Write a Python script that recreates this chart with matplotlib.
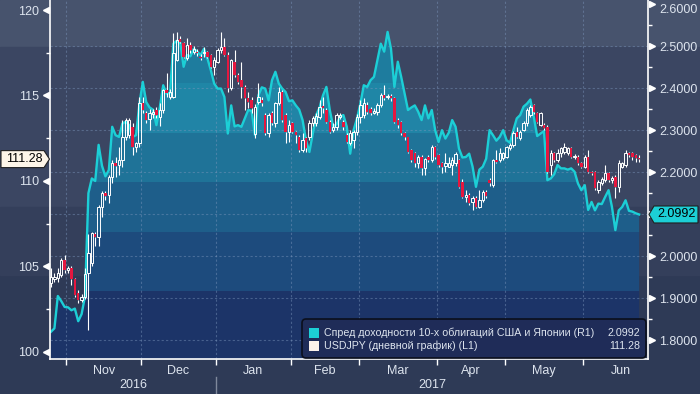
import numpy as np
import pandas as pd
import matplotlib
matplotlib.use('Agg')
import matplotlib.pyplot as plt
from matplotlib.colors import to_rgb
from matplotlib.patches import Rectangle, Polygon, FancyBboxPatch
from matplotlib.transforms import IdentityTransform, blended_transform_factory
from matplotlib.ticker import FormatStrFormatter

plt.rcParams['font.family'] = ['Liberation Sans', 'DejaVu Sans']

# --- данные (дневные бары, с 25.10.2016) ---
start_date = '2016-10-25'

usdjpy_open = [
    104.02, 104.25, 104.31, 104.50, 105.38, 104.79, 104.89, 104.25, 103.43, 103.04,
    103.23, 104.60, 105.19, 106.88, 106.74, 108.50, 109.28, 109.18, 110.25, 111.03,
    110.93, 111.23, 112.60, 112.69, 113.18, 112.00, 112.20, 114.54, 113.96, 113.60,
    113.90, 114.15, 113.76, 114.15, 115.32, 114.93, 114.93, 117.08, 118.28, 118.05,
    117.17, 117.95, 117.56, 117.56, 117.27, 117.46, 117.56, 117.37, 116.69, 116.98,
    117.64, 117.83, 117.37, 115.42, 116.98, 116.20, 115.90, 115.52, 114.83, 114.74,
    112.75, 114.64, 114.74, 113.86, 112.79, 113.96, 113.37, 114.54, 115.22, 113.86,
    112.88, 113.37, 112.88, 112.59, 111.81, 112.50, 112.59, 113.37, 113.37, 113.76,
    114.39, 114.15, 113.47, 112.98, 113.18, 113.72, 113.47, 112.69, 112.20, 112.40,
    112.88, 113.76, 113.86, 114.45, 114.19, 114.00, 114.05, 114.45, 115.03, 114.89,
    114.97, 114.83, 113.57, 113.47, 112.79, 112.59, 111.81, 111.62, 111.03, 111.42,
    110.74, 111.42, 111.23, 112.00, 111.52, 111.03, 110.88, 110.84, 110.93, 111.03,
    111.23, 109.96, 109.08, 109.18, 108.79, 108.99, 108.50, 108.89, 109.38, 110.06,
    109.77, 111.23, 111.23, 111.33, 111.42, 111.91, 112.10, 112.88, 112.50, 112.98,
    113.37, 113.86, 114.45, 113.96, 113.27, 113.27, 113.18, 110.93, 111.62, 111.23,
    111.62, 111.72, 111.62, 111.91, 111.38, 111.42, 111.03, 110.84, 111.42, 110.55,
    110.55, 109.47, 109.86, 110.06, 110.45, 110.06, 110.25, 109.67, 110.84, 110.93,
    111.62, 111.62, 111.52, 111.33,
]
usdjpy_high = [
    104.89, 104.60, 104.90, 105.50, 105.67, 105.00, 105.00, 104.30, 103.60, 103.40,
    104.90, 106.90, 107.00, 107.00, 108.60, 109.40, 109.40, 110.35, 111.20, 111.40,
    112.00, 113.57, 113.67, 113.70, 113.40, 112.30, 114.90, 114.90, 114.10, 114.20,
    114.20, 114.30, 114.54, 115.40, 116.30, 115.40, 118.64, 118.74, 118.50, 118.10,
    118.35, 118.15, 117.90, 117.70, 117.40, 117.86, 117.60, 117.40, 117.27, 117.80,
    118.70, 118.35, 117.56, 117.12, 117.66, 116.30, 116.98, 115.62, 115.20, 114.90,
    114.50, 115.71, 114.90, 114.00, 113.96, 114.10, 114.64, 115.52, 115.30, 114.00,
    113.57, 113.47, 112.90, 112.70, 112.79, 112.60, 113.57, 113.80, 113.96, 114.74,
    114.93, 114.25, 113.57, 113.37, 113.96, 114.00, 113.57, 112.79, 113.00, 113.00,
    113.90, 114.74, 114.83, 114.60, 114.30, 114.25, 114.54, 115.13, 115.61, 115.10,
    115.10, 114.90, 113.70, 113.50, 112.88, 112.60, 111.90, 111.70, 111.50, 111.50,
    111.35, 111.50, 112.10, 112.05, 111.60, 111.10, 111.62, 111.42, 111.42, 111.70,
    111.30, 110.10, 109.47, 109.30, 109.10, 109.10, 109.47, 109.50, 109.50, 110.20,
    111.30, 111.81, 111.91, 111.70, 112.05, 112.20, 112.90, 113.18, 113.00, 113.50,
    114.25, 114.45, 114.50, 114.05, 114.05, 113.40, 113.27, 111.81, 111.70, 111.90,
    112.00, 112.20, 112.00, 112.00, 111.60, 111.50, 111.10, 111.52, 111.81, 110.60,
    110.60, 110.06, 110.25, 110.93, 110.55, 110.30, 110.35, 111.23, 111.10, 111.81,
    111.70, 111.70, 111.60, 111.50,
]
usdjpy_low = [
    103.82, 104.10, 104.10, 104.40, 104.60, 104.60, 103.92, 103.20, 102.85, 102.95,
    103.10, 101.29, 105.00, 106.20, 106.20, 107.90, 108.90, 108.70, 109.90, 110.25,
    110.35, 110.84, 112.40, 112.50, 111.50, 111.70, 112.00, 114.00, 113.40, 113.00,
    113.70, 113.70, 113.20, 114.00, 114.93, 114.80, 114.83, 117.00, 118.05, 117.20,
    117.10, 117.46, 117.40, 117.30, 117.10, 117.27, 117.20, 116.60, 116.20, 116.90,
    117.46, 117.30, 115.22, 115.32, 116.10, 115.70, 114.83, 114.15, 114.25, 114.00,
    112.50, 114.50, 114.40, 112.70, 112.59, 113.27, 113.18, 114.45, 113.47, 112.20,
    112.30, 112.80, 112.20, 111.72, 111.72, 111.70, 112.40, 113.20, 113.20, 113.60,
    114.00, 113.37, 112.79, 112.88, 113.00, 113.60, 113.00, 112.20, 112.10, 111.95,
    112.70, 113.37, 113.70, 113.90, 113.86, 113.90, 113.86, 114.35, 114.74, 114.80,
    114.70, 113.37, 113.10, 112.69, 112.40, 111.62, 111.10, 110.84, 110.74, 110.35,
    110.35, 111.10, 111.13, 111.30, 110.84, 110.45, 110.55, 110.80, 110.35, 110.90,
    109.60, 109.00, 108.79, 108.60, 108.30, 108.40, 108.40, 108.80, 109.00, 109.70,
    109.67, 111.03, 111.13, 111.20, 111.33, 111.80, 112.00, 112.50, 112.40, 112.90,
    113.20, 113.76, 113.90, 113.37, 113.20, 112.98, 110.45, 110.35, 111.10, 111.10,
    111.40, 111.60, 111.50, 111.33, 111.30, 110.93, 110.74, 110.74, 110.45, 110.35,
    109.50, 109.28, 109.77, 109.96, 109.96, 109.90, 108.98, 109.38, 110.74, 110.84,
    111.40, 111.20, 111.10, 111.10,
]
usdjpy_close = [
    104.41, 104.41, 104.60, 105.38, 104.79, 104.89, 104.25, 103.33, 103.04, 103.23,
    104.56, 105.77, 106.94, 106.70, 108.50, 109.28, 109.12, 110.25, 111.03, 110.90,
    111.23, 112.60, 113.57, 113.57, 112.00, 112.20, 114.54, 114.15, 113.57, 113.96,
    114.05, 113.86, 114.15, 115.32, 115.17, 115.22, 117.46, 118.25, 118.15, 117.27,
    117.95, 117.66, 117.70, 117.46, 117.17, 117.56, 117.27, 116.69, 117.08, 117.66,
    117.83, 117.37, 115.42, 117.08, 116.20, 115.81, 115.52, 114.83, 114.64, 114.25,
    114.31, 114.93, 114.54, 112.79, 113.86, 113.37, 114.54, 115.22, 113.57, 112.88,
    113.27, 112.88, 112.69, 111.81, 112.40, 111.91, 113.37, 113.66, 113.80, 114.35,
    114.25, 113.47, 112.88, 113.18, 113.86, 113.86, 113.18, 112.30, 112.83, 112.88,
    113.76, 114.45, 114.54, 114.05, 113.96, 114.11, 114.45, 115.03, 114.83, 114.97,
    114.83, 113.47, 113.27, 112.79, 112.59, 111.72, 111.23, 111.03, 111.42, 110.74,
    111.27, 111.23, 112.00, 111.42, 110.93, 110.84, 111.03, 111.03, 111.23, 111.60,
    109.67, 109.08, 109.18, 108.69, 108.99, 108.50, 108.89, 109.38, 109.12, 109.86,
    111.23, 111.13, 111.62, 111.62, 112.00, 112.10, 112.79, 112.59, 112.88, 113.37,
    114.15, 114.35, 114.05, 113.47, 113.96, 113.08, 110.55, 111.62, 111.23, 111.62,
    111.91, 112.00, 111.91, 111.42, 111.46, 111.03, 110.84, 111.42, 110.55, 110.45,
    109.57, 109.96, 110.10, 110.45, 110.06, 110.16, 109.67, 111.03, 111.03, 111.62,
    111.52, 111.42, 111.33, 111.28,
]
# спред доходности 10-летних облигаций США и Японии, п.п.
spread = [
    1.820, 1.828, 1.905, 1.893, 1.879, 1.878, 1.871, 1.875, 1.845, 1.862,
    1.905, 2.150, 2.185, 2.179, 2.265, 2.215, 2.190, 2.205, 2.308, 2.288,
    2.284, 2.316, 2.320, 2.312, 2.284, 2.288, 2.363, 2.415, 2.367, 2.354,
    2.349, 2.312, 2.354, 2.407, 2.387, 2.389, 2.506, 2.513, 2.508, 2.451,
    2.479, 2.476, 2.494, 2.487, 2.479, 2.494, 2.471, 2.443, 2.411, 2.399,
    2.399, 2.379, 2.292, 2.359, 2.309, 2.312, 2.308, 2.328, 2.348, 2.346,
    2.288, 2.383, 2.402, 2.399, 2.371, 2.419, 2.439, 2.411, 2.399, 2.391,
    2.369, 2.371, 2.359, 2.349, 2.324, 2.276, 2.248, 2.292, 2.336, 2.354,
    2.383, 2.403, 2.348, 2.309, 2.314, 2.332, 2.336, 2.308, 2.244, 2.300,
    2.328, 2.363, 2.407, 2.403, 2.419, 2.427, 2.467, 2.506, 2.487, 2.534,
    2.494, 2.403, 2.463, 2.427, 2.387, 2.348, 2.354, 2.359, 2.344, 2.324,
    2.359, 2.328, 2.348, 2.300, 2.272, 2.300, 2.280, 2.294, 2.324, 2.308,
    2.256, 2.235, 2.236, 2.244, 2.213, 2.165, 2.206, 2.213, 2.232, 2.300,
    2.288, 2.275, 2.284, 2.300, 2.276, 2.270, 2.300, 2.328, 2.336, 2.356,
    2.363, 2.373, 2.332, 2.286, 2.292, 2.298, 2.181, 2.185, 2.195, 2.217,
    2.209, 2.209, 2.206, 2.209, 2.201, 2.173, 2.157, 2.169, 2.110, 2.129,
    2.109, 2.125, 2.124, 2.141, 2.157, 2.117, 2.062, 2.109, 2.117, 2.133,
    2.108, 2.106, 2.102, 2.0992,
]

left_ticks = [100, 105, 110, 115, 120]
right_ticks = [1.8, 1.9, 2.0, 2.1, 2.2, 2.3, 2.4, 2.5, 2.6]
legend_labels = ['Спред доходности 10-х облигаций США и Японии (R1)',
                 'USDJPY (дневной график) (L1)']

# --- оформление ---
W, H = 700, 394
bg_rows = [(0, 47, '#47536d'), (47, 207, '#3b4662'), (207, 275, '#343f5b')]
fill_levels = [2.412, 2.348, 2.293, 2.176, 2.057, 1.917]
fill_colors = ['#1e7c9e', '#1f86a6', '#2184a6', '#1f7398', '#1e5e8a', '#1d4b7d', '#1c3468']
cyan = '#1ccfd6'
red = '#e5173f'
txt = '#dde4ee'
grid_kw = dict(color='#7d97bd', alpha=0.45, lw=0.8, ls=(0, (2, 2)), zorder=2)

o = np.array(usdjpy_open)
h = np.array(usdjpy_high)
l = np.array(usdjpy_low)
c = np.array(usdjpy_close)
s = np.array(spread)
x = np.arange(len(s))

cal = pd.bdate_range(start_date, '2017-07-31')
month_starts = [i for i in range(1, len(cal)) if cal[i].month != cal[i - 1].month]
edges = [i - 0.5 for i in month_starts]
month_ticks = edges[:-1]
month_mids = [(a + b) / 2 for a, b in zip(edges[:-1], edges[1:])]
month_names = [cal[i].strftime('%b') for i in month_starts[:-1]]

fig = plt.figure(figsize=(W / 100, H / 100), dpi=100)
fig.patch.set_facecolor('#2e3a56')
for top, bot, col in bg_rows:
    fig.add_artist(Rectangle((0, 1 - bot / H), 1, (bot - top) / H,
                             transform=fig.transFigure, color=col, zorder=-10))

ax = fig.add_axes([50 / W, 35 / H, 598 / W, 359 / H])
ax2 = ax.twinx()
ax.set_zorder(ax2.get_zorder() + 1)
ax.patch.set_visible(False)
ax2.patch.set_visible(False)

xlim = (-0.3, 175.6)
ylim_l = (99.59, 120.585)
ylim_r = (1.755, 2.61)

# заливка под линией спреда: ступенчатые полосы
area = ax2.fill_between(x, s, ylim_r[0], color='none', lw=0)
yy = np.linspace(ylim_r[1], ylim_r[0], 900)
idx = np.sum(yy[:, None] < np.array(fill_levels)[None, :], axis=1)
rgb = np.array([to_rgb(col) for col in fill_colors])
img = rgb[idx][:, None, :]
im = ax2.imshow(img, extent=[x[0], x[-1], ylim_r[0], ylim_r[1]], aspect='auto',
                origin='upper', interpolation='nearest', zorder=1)
im.set_clip_path(area.get_paths()[0], transform=ax2.transData)

for v in right_ticks[:-1]:
    ax2.axhline(v, **grid_kw)
for t in month_ticks:
    ax2.axvline(t, **grid_kw)

ax2.plot(x, s, color=cyan, lw=1.7, zorder=3, solid_joinstyle='round')

# свечи USDJPY
up = c >= o
lo = np.minimum(o, c)
hi = np.maximum(o, c)
ax.vlines(x, hi, h, color='white', lw=0.8, zorder=3)
ax.vlines(x, l, lo, color='white', lw=0.8, zorder=3)
ax.bar(x[up], (hi - lo)[up], bottom=lo[up], width=0.72, facecolor='none',
       edgecolor='white', lw=0.7, zorder=4)
ax.bar(x[~up], (hi - lo)[~up], bottom=lo[~up], width=0.72, color=red, lw=0, zorder=4)

ax.set_xlim(*xlim)
ax.set_ylim(*ylim_l)
ax2.set_ylim(*ylim_r)

for sp in ax2.spines.values():
    sp.set_visible(False)
ax.spines['top'].set_visible(False)
for k in ['left', 'right', 'bottom']:
    ax.spines[k].set_color('white')
    ax.spines[k].set_linewidth(1.2)

# левая ось
ax.set_yticks(left_ticks)
ax.set_yticks(np.arange(102.5, 120, 5), minor=True)
ax.tick_params(axis='y', which='major', length=0, pad=8, labelsize=9, labelcolor=txt)
ax.tick_params(axis='y', which='minor', length=3, width=1, color='white', direction='out')
tl = blended_transform_factory(ax.transAxes, ax.transData)
ax.plot([-4 / 598] * len(left_ticks), left_ticks, ls='none', marker='<', ms=5,
        color='white', transform=tl, clip_on=False)

# правая ось (подпись 2.1000 закрыта меткой последнего значения)
ax2.set_yticks(right_ticks)
ax2.yaxis.set_major_formatter(FormatStrFormatter('%.4f'))
ax2.set_yticks(np.arange(1.85, 2.6, 0.1), minor=True)
ax2.tick_params(axis='y', which='major', length=0, pad=8, labelsize=9, labelcolor=txt)
ax2.tick_params(axis='y', which='minor', length=3, width=1, color='white', direction='out')
rticks = ax2.yaxis.get_major_ticks()
rticks[-1].label2.set_va('top')
rticks[right_ticks.index(2.1)].label2.set_visible(False)
tr = blended_transform_factory(ax2.transAxes, ax2.transData)
ax2.plot([1 + 4 / 598] * len(right_ticks), right_ticks, ls='none', marker='>', ms=5,
         color='white', transform=tr, clip_on=False)

# ось X
ax.set_xticks(month_ticks)
ax.set_xticklabels([''] * len(month_ticks))
ax.set_xticks(month_mids, minor=True)
ax.set_xticklabels(month_names, minor=True)
ax.tick_params(axis='x', which='major', length=4, width=1, color='white', direction='out')
ax.tick_params(axis='x', which='minor', length=0, pad=4, labelsize=9, labelcolor=txt)
tb = blended_transform_factory(ax.transData, ax.transAxes)
jan = edges[2]
ax.text((xlim[0] + jan) / 2, -26 / 359, '2016', transform=tb, ha='center', va='center',
        fontsize=9, color=txt)
ax.text((jan + xlim[1]) / 2, -26 / 359, '2017', transform=tb, ha='center', va='center',
        fontsize=9, color=txt)
ax.plot([jan, jan], [-18 / 359, -35 / 359], color='#7f889c', lw=1, transform=tb,
        clip_on=False)

# метки последних значений
ident = IdentityTransform()
yl = ax.transData.transform((0, c[-1]))[1]
fig.add_artist(Polygon([(1, yl - 8.5), (44, yl - 8.5), (49.5, yl), (44, yl + 8.5), (1, yl + 8.5)],
                       closed=True, fc='#fdf5e8', ec='#202020', lw=0.8, transform=ident, zorder=6))
fig.text(24.5, yl, f'{c[-1]:.2f}', transform=ident, ha='center', va='center',
         fontsize=9, color='black', zorder=7)
yr = ax2.transData.transform((0, s[-1]))[1]
fig.add_artist(Polygon([(649, yr), (654, yr + 8.5), (698, yr + 8.5), (698, yr - 8.5), (654, yr - 8.5)],
                       closed=True, fc=cyan, ec='#202020', lw=0.8, transform=ident, zorder=6))
fig.text(676, yr, f'{s[-1]:.4f}', transform=ident, ha='center', va='center',
         fontsize=9, color='black', zorder=7)

# легенда
fig.add_artist(FancyBboxPatch((302, 36), 344, 39, boxstyle='round,pad=0,rounding_size=4',
                              fc='#1f2c58', ec='#0b0f1c', lw=1.2, transform=ident, zorder=6))
rows = [61, 48]
marks = [cyan, '#fdf3ea']
values = [f'{s[-1]:.4f}', f'{c[-1]:.2f}']
for ry, lab, mc, val in zip(rows, legend_labels, marks, values):
    fig.add_artist(Rectangle((309, ry - 5), 10, 10, fc=mc, ec='none', transform=ident, zorder=7))
    fig.text(324, ry, lab, transform=ident, ha='left', va='center', fontsize=7.7,
             color=txt, zorder=7)
    fig.text(640, ry, val, transform=ident, ha='right', va='center', fontsize=7.7,
             color=txt, zorder=7)

fig.savefig('out.png', dpi=100, facecolor=fig.get_facecolor())
